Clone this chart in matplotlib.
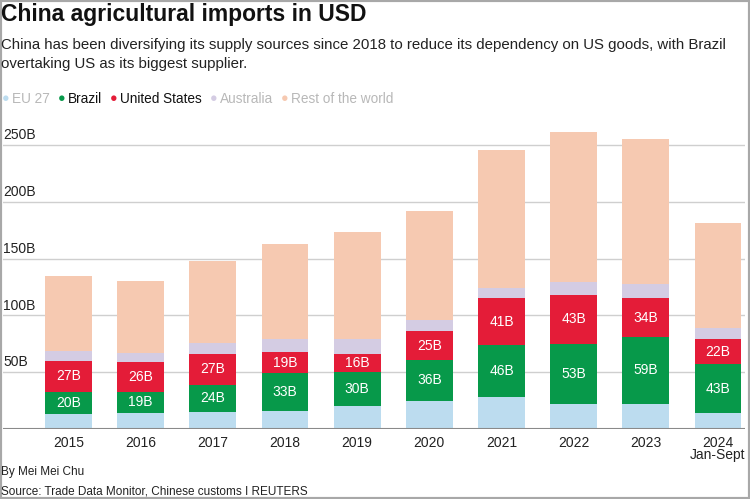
import numpy as np
import matplotlib.pyplot as plt
from matplotlib.patches import Rectangle

plt.rcParams['font.family'] = ['Liberation Sans', 'DejaVu Sans']

# Data (billions USD)
years = ['2015', '2016', '2017', '2018', '2019', '2020', '2021', '2022', '2023', '2024\nJan-Sept']
eu27 = [13, 14, 15, 16, 20, 25, 28, 22, 22, 14]
brazil = [20, 19, 24, 33, 30, 36, 46, 53, 59, 43]
united_states = [27, 26, 27, 19, 16, 25, 41, 43, 34, 22]
australia = [8.5, 8, 10, 11, 13, 10, 9.5, 11, 13, 10]
rest_of_world = [66, 63, 72, 84, 94, 96, 121, 132, 127, 92]

series_names = ['EU 27', 'Brazil', 'United States', 'Australia', 'Rest of the world']
colors = ['#bcdcef', '#07994a', '#e41c38', '#d4cce3', '#f6c9b1']
legend_text_colors = ['#b8b8b8', '#111111', '#111111', '#b8b8b8', '#b8b8b8']
y_ticks = [50, 100, 150, 200, 250]

fig = plt.figure(figsize=(7.5, 4.99), dpi=100)
W, H = 750, 499

# axes placed in pixel coordinates: left 3, right 745, bottom at y=429, top at y=120
ax = fig.add_axes([3 / W, 1 - 429 / H, 742 / W, (429 - 120) / H])
x = np.arange(len(years))
bar_w = 0.65

bottom = np.zeros(len(years))
for vals, c in zip([eu27, brazil, united_states, australia, rest_of_world], colors):
    ax.bar(x, vals, bar_w, bottom=bottom, color=c, zorder=2)
    bottom += np.array(vals)

# value labels for Brazil and US
for i in range(len(years)):
    yb = eu27[i] + brazil[i] / 2
    ax.text(x[i], yb, f'{brazil[i]}B', ha='center', va='center', color='white',
            fontsize=10, zorder=3)
    yu = eu27[i] + brazil[i] + united_states[i] / 2
    ax.text(x[i], yu, f'{united_states[i]}B', ha='center', va='center', color='white',
            fontsize=10, zorder=3)

ax.set_xlim(-0.908, 9.374)
ax.set_ylim(0, 272)
for t in y_ticks:
    ax.axhline(t, color='#cfcfcf', linewidth=1, zorder=1)
    ax.text(0.0, t + 2.5, f'{t}B', transform=ax.get_yaxis_transform(), ha='left', va='bottom',
            fontsize=10, color='#222222')
ax.axhline(0, color='#8a8a8a', linewidth=1.5, zorder=4)

for s in ax.spines.values():
    s.set_visible(False)
ax.set_yticks([])
ax.set_xticks(x)
ax.set_xticklabels(years, fontsize=10, color='#222222', linespacing=0.8)
ax.tick_params(axis='x', length=0, pad=5)

# title, subtitle
fig.text(1 / W, 1 - 3 / H, 'China agricultural imports in USD', fontsize=16.5, fontweight='bold',
         ha='left', va='top', color='#111111')
fig.text(1 / W, 1 - 38 / H,
         'China has been diversifying its supply sources since 2018 to reduce its dependency on US goods, with Brazil\novertaking US as its biggest supplier.',
         fontsize=10.8, ha='left', va='top', color='#222222', linespacing=1.45)

# legend row
lx = 6
for name, c, tc in zip(series_names, colors, legend_text_colors):
    fig.text(lx / W, 1 - 99 / H, '●', fontsize=9, color=c, ha='center', va='center')
    t = fig.text((lx + 6) / W, 1 - 99 / H, name, fontsize=9.8, color=tc, ha='left', va='center')
    fig.canvas.draw()
    bb = t.get_window_extent()
    lx = bb.x1 + 12

# footer
fig.text(1 / W, 1 - 472 / H, 'By Mei Mei Chu', fontsize=8.5, ha='left', va='center', color='#222222')
fig.text(1 / W, 1 - 491 / H, 'Source: Trade Data Monitor, Chinese customs I REUTERS', fontsize=8.5,
         ha='left', va='center', color='#222222')

# grey frame around the image
fig.patches.append(Rectangle((0, 0), 1, 1, transform=fig.transFigure, fill=False,
                             edgecolor='#a8a8a8', linewidth=3))

fig.savefig('out.png', dpi=100)
